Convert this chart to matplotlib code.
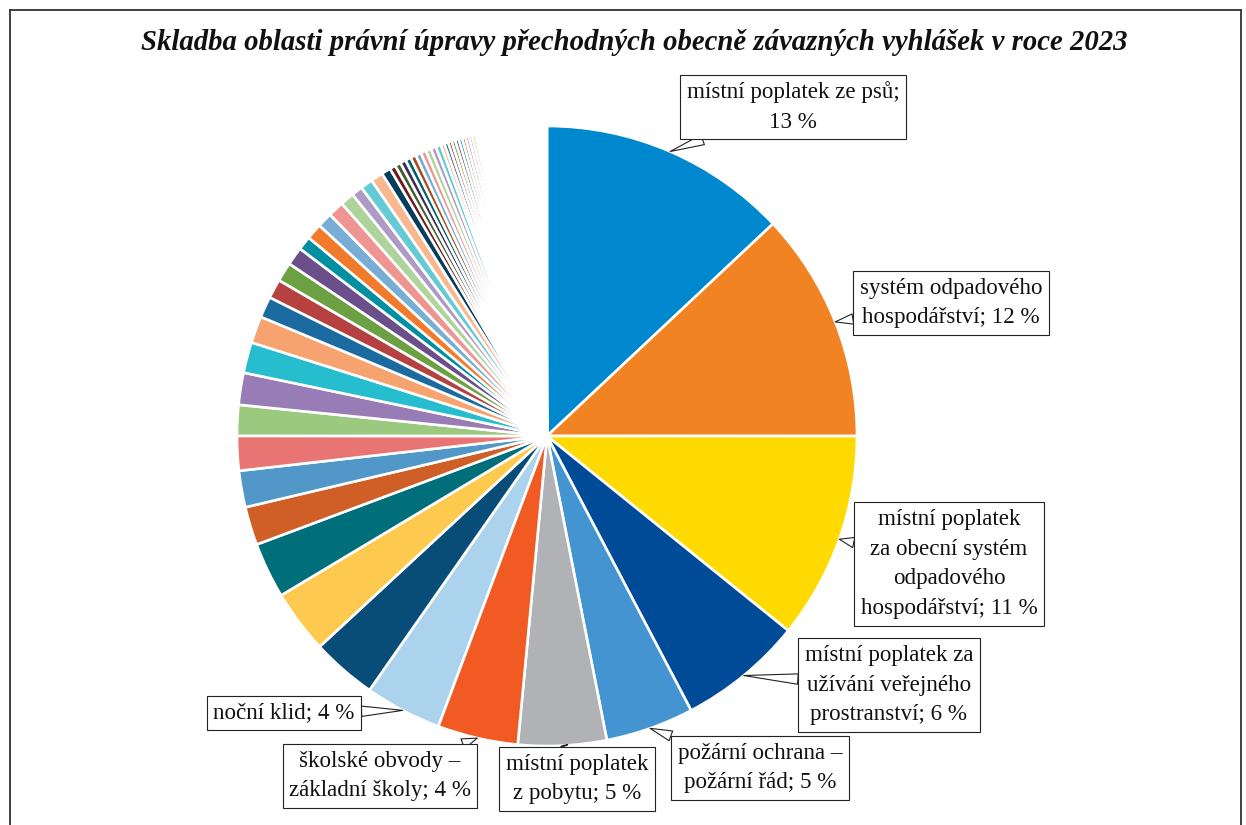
import matplotlib
matplotlib.use("Agg")
import matplotlib.pyplot as plt
import numpy as np
from matplotlib.lines import Line2D

# ---------------- data ----------------
title = "Skladba oblasti právní úpravy přechodných obecně závazných vyhlášek v roce 2023"

# shares (%) of all slices, clockwise from 12 o'clock
main_values = [13.0, 12.0, 10.8, 6.5, 4.6, 4.6, 4.2, 4.0, 3.4, 3.3,
               2.9, 2.0, 1.9, 1.8, 1.6, 1.67, 1.6, 1.4, 1.1, 1.0,
               1.0, 0.95, 0.72, 0.83, 0.78, 0.83, 0.72, 0.58, 0.64, 0.64]
small_values = [0.48, 0.31, 0.30, 0.30, 0.29, 0.29, 0.29, 0.28, 0.28, 0.27, 0.27,
                0.20, 0.20, 0.19, 0.19, 0.19, 0.18, 0.18, 0.18, 0.17, 0.17]
tiny_values = [0.12, 0.11, 0.10, 0.10, 0.09, 0.09, 0.09, 0.08, 0.08, 0.08, 0.08,
               0.07, 0.07, 0.07, 0.07, 0.07, 0.07, 0.07, 0.07, 0.07, 0.07,
               0.06, 0.06, 0.06, 0.06, 0.06, 0.06, 0.06, 0.06, 0.06, 0.06,
               0.06, 0.06, 0.06, 0.06, 0.06, 0.06, 0.06, 0.06, 0.06, 0.06,
               0.05, 0.05, 0.05, 0.05, 0.05, 0.05, 0.05, 0.05,
               0.05, 0.05, 0.05, 0.05, 0.05, 0.05, 0.05, 0.05]
values = main_values + small_values + tiny_values

# labelled slices (index into values) and their callout texts
label_index = [0, 1, 2, 3, 4, 5, 6, 7]
label_texts = ["místní poplatek ze psů;\n13 %",
               "systém odpadového\nhospodářství; 12 %",
               "místní poplatek\nza obecní systém\nodpadového\nhospodářství; 11 %",
               "místní poplatek za\nužívání veřejného\nprostranství; 6 %",
               "požární ochrana –\npožární řád; 5 %",
               "místní poplatek\nz pobytu; 5 %",
               "školské obvody –\nzákladní školy; 4 %",
               "noční klid; 4 %"]

# ---------------- style ----------------
base_colors = ['#0088CF', '#F28322', '#FFDA00', '#004B98', '#4394D1', '#B1B2B5',
               '#F15A22', '#ACD3EE', '#074D78', '#FDCA4F', '#006F79', '#D05F27',
               '#5198C9', '#E87573', '#9AC97F', '#987CB5', '#26BECF', '#F6A36F',
               '#1B6BA0', '#B54141', '#6BA043', '#6A4F8A', '#0090A2', '#F27B2B',
               '#78AED5', '#EE9491', '#AED49B', '#AE9AC5', '#64CAD6', '#F9B78F',
               '#053D5D', '#6D1D1F', '#405F29', '#3F2E57', '#006070', '#A84F1B']
cycle_colors = ['#78AED5', '#EE9491', '#AED49B', '#AE9AC5', '#64CAD6', '#F9B78F',
                '#1B6BA0', '#B54141', '#6BA043', '#6A4F8A', '#0090A2', '#F27B2B']
colors = [base_colors[i] if i < len(base_colors)
          else cycle_colors[(i - len(base_colors)) % len(cycle_colors)]
          for i in range(len(values))]

# text box centres in figure pixels (from bottom-left)
label_pos = [(793, 718), (951, 522), (949, 261), (889, 140),
             (760, 57), (577, 46), (380, 49), (284, 112)]

W, H = 1246, 825
fig = plt.figure(figsize=(W / 100, H / 100), dpi=100)
fig.patch.set_facecolor('white')

cx, cy, R = 547, 825 - 436, 310
ax = fig.add_axes([(cx - R) / W, (cy - R) / H, 2 * R / W, 2 * R / H])
wedges, _ = ax.pie(values, colors=colors, startangle=90, counterclock=False,
                   radius=1.0,
                   wedgeprops=dict(edgecolor='white', linewidth=1.9))
ax.set_xlim(-1, 1)
ax.set_ylim(-1, 1)
ax.set_aspect('equal')
ax.axis('off')

serif = ['Liberation Serif', 'DejaVu Serif']
for idx, txt, pos in zip(label_index, label_texts, label_pos):
    w = wedges[idx]
    mid = np.deg2rad((w.theta1 + w.theta2) / 2)
    tip = (np.cos(mid) * 1.0, np.sin(mid) * 1.0)
    ax.annotate(txt, xy=tip, xycoords='data', xytext=pos,
                textcoords='figure pixels', ha='center', va='center',
                multialignment='center', fontsize=16.6, family=serif,
                linespacing=1.55, color='#111111',
                bbox=dict(boxstyle='square,pad=0.28', fc='white', ec='#222222', lw=0.8),
                arrowprops=dict(arrowstyle='wedge,tail_width=0.45,shrink_factor=0.5',
                                fc='white', ec='#222222', lw=0.8,
                                shrinkA=0, shrinkB=0),
                annotation_clip=False, zorder=5)

fig.text(634 / W, 1 - 43 / H, title, ha='center', va='center',
         fontsize=20.7, fontweight='bold', fontstyle='italic', family=serif,
         color='#111111')

# frame (bottom edge lies outside the picture)
fx0, fx1, fy1 = 9.5 / W, 1240.5 / W, 1 - 9.5 / H
for xs, ys in [((fx0, fx0), (0, fy1)), ((fx0, fx1), (fy1, fy1)), ((fx1, fx1), (fy1, 0))]:
    fig.add_artist(Line2D(xs, ys, transform=fig.transFigure, color='#333333', lw=1.3))

fig.savefig('out.png', dpi=100, facecolor='white')
